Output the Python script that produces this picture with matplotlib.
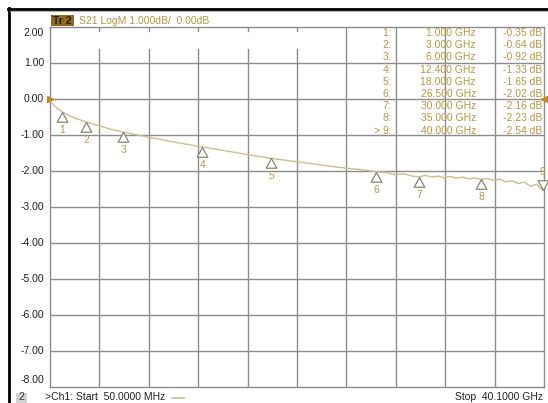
import numpy as np
import matplotlib.pyplot as plt
from matplotlib.lines import Line2D
from matplotlib.patches import Rectangle

plt.rcParams['font.family'] = ['Liberation Sans', 'DejaVu Sans']
plt.rcParams['font.size'] = 7.5

# Trace data (GHz, dB)
freq = [0.05, 0.3, 0.6, 1.0, 1.5, 2.0, 3.0, 4.0, 5.0, 6.0, 7.0, 8.0, 9.0, 10.0,
        11.0, 12.4, 14.0, 16.0, 18.0, 20.0, 22.0, 24.0, 25.5, 26.5, 27.3, 28.0,
        28.8, 29.4, 30.0, 30.5, 31.0, 31.5, 32.0, 32.5, 33.0, 33.5, 34.0, 34.5,
        35.0, 35.5, 36.0, 36.5, 37.0, 37.5, 38.0, 38.5, 39.0, 39.5, 40.0, 40.1]
s21 = [-0.05, -0.15, -0.25, -0.35, -0.44, -0.52, -0.64, -0.74, -0.84, -0.92,
       -0.99, -1.06, -1.12, -1.19, -1.25, -1.33, -1.42, -1.54, -1.65, -1.74,
       -1.83, -1.92, -1.97, -2.02, -2.04, -2.10, -2.08, -2.14, -2.16, -2.12,
       -2.17, -2.14, -2.19, -2.15, -2.20, -2.17, -2.22, -2.19, -2.23, -2.21,
       -2.26, -2.23, -2.30, -2.27, -2.35, -2.31, -2.42, -2.37, -2.54, -2.45]

# Markers
mk_num = [1, 2, 3, 4, 5, 6, 7, 8, 9]
mk_freq = [1.0, 3.0, 6.0, 12.4, 18.0, 26.5, 30.0, 35.0, 40.0]
mk_val = [-0.35, -0.64, -0.92, -1.33, -1.65, -2.02, -2.16, -2.23, -2.54]
mk_freq_txt = ['1.000 GHz', '3.000 GHz', '6.000 GHz', '12.400 GHz', '18.000 GHz',
               '26.500 GHz', '30.000 GHz', '35.000 GHz', '40.000 GHz']
mk_val_txt = ['-0.35 dB', '-0.64 dB', '-0.92 dB', '-1.33 dB', '-1.65 dB',
              '-2.02 dB', '-2.16 dB', '-2.23 dB', '-2.54 dB']

y_ticks = [2, 1, 0, -1, -2, -3, -4, -5, -6, -7, -8]

W, H = 548, 403
trace_col = '#cfbd8c'
gold = '#b8973f'
grid_col = '#8c8c8c'

fig = plt.figure(figsize=(W / 100, H / 100), dpi=100)
fig.patch.set_facecolor('white')


def fx(px):
    return px / W


def fy(py):
    return 1 - py / H


# plot area in pixels
L, R, T, B = 50, 544, 27, 387
ax = fig.add_axes([fx(L), fy(B), fx(R - L), (B - T) / H])
x0, x1 = 0.05, 40.1
ax.set_xlim(x0, x1)
ax.set_ylim(-8, 2)
ax.set_xticks([])
ax.set_yticks([])
for s in ax.spines.values():
    s.set_color(grid_col)
    s.set_linewidth(1.0)

# grid
for v in y_ticks[1:-1]:
    ax.axhline(v, color=grid_col, lw=1.0, zorder=1)
step = (x1 - x0) / 10
for k in range(1, 10):
    xv = x0 + k * step
    if k <= 5:
        ax.plot([xv, xv], [-8, 1.38], color=grid_col, lw=1.0, zorder=1)
        ax.plot([xv, xv], [1.88, 2], color=grid_col, lw=1.0, zorder=1)
    else:
        ax.plot([xv, xv], [-8, 2], color=grid_col, lw=1.0, zorder=1)

# y labels
for v in y_ticks:
    yy = v
    if v == 2:
        yy = 1.83
    if v == -8:
        yy = -7.8
    ax.text(-0.012, yy, f'{v:.2f}', transform=ax.get_yaxis_transform(),
            ha='right', va='center', fontsize=7.5, color='#222222')

# trace
ax.plot(freq, s21, color=trace_col, lw=1.0, zorder=3)

# reference arrows
ax.plot([x0], [0], marker='>', color='#c08a20', ms=5, clip_on=False, zorder=5)
ax.plot([x1], [0], marker='<', color='#c08a20', ms=5, clip_on=False, zorder=5)

# marker triangles, apex on the trace
tri_down = [(0, 0), (-0.55, -1), (0.55, -1), (0, 0)]
tri_up = [(0, 0), (-0.55, 1), (0.55, 1), (0, 0)]
for n, f, v in zip(mk_num, mk_freq, mk_val):
    if n == 9:
        ax.plot([f], [v], marker=tri_up, ms=14, mfc='white', mec='#8a8470',
                mew=0.9, clip_on=False, zorder=4)
        ax.annotate(str(n), (f, v), xytext=(0, 13), textcoords='offset points',
                    ha='center', va='center', color=gold, fontsize=7.5,
                    annotation_clip=False)
    else:
        ax.plot([f], [v], marker=tri_down, ms=14, mfc='white', mec='#8a8470',
                mew=0.9, clip_on=False, zorder=4)
        ax.annotate(str(n), (f, v), xytext=(0, -13), textcoords='offset points',
                    ha='center', va='center', color=gold, fontsize=7.5)

# marker table
for i, n in enumerate(mk_num):
    ypx = 33 + i * 12.2
    lab = f'{n}:'
    fig.text(fx(391), fy(ypx), lab, ha='right', va='center', color=gold, fontsize=7.5)
    if n == 9:
        fig.text(fx(380), fy(ypx), '>', ha='right', va='center', color=gold, fontsize=7.5)
    fig.text(fx(476), fy(ypx), mk_freq_txt[i], ha='right', va='center', color=gold, fontsize=7.5)
    fig.text(fx(542), fy(ypx), mk_val_txt[i], ha='right', va='center', color=gold, fontsize=7.5)

# title bar
fig.patches.append(Rectangle((fx(51), fy(26)), fx(23), 11 / H, transform=fig.transFigure,
                             facecolor='#8e6a1c', edgecolor='none'))
fig.text(fx(62.5), fy(20.5), 'Tr 2', ha='center', va='center', color='#2a1e00',
         fontsize=7.5, fontweight='bold')
fig.text(fx(79), fy(20.5), 'S21 LogM 1.000dB/  0.00dB', ha='left', va='center',
         color=gold, fontsize=7.5)

# bottom line
fig.patches.append(Rectangle((fx(16), fy(403)), fx(11), 10 / H, transform=fig.transFigure,
                             facecolor='#d2d2d2', edgecolor='none'))
fig.text(fx(21.5), fy(397.5), '2', ha='center', va='center', color='#333333', fontsize=7.5)
fig.text(fx(45), fy(397.5), '>Ch1: Start  50.0000 MHz', ha='left', va='center',
         color='#222222', fontsize=7.5)
fig.lines.append(Line2D([fx(172), fx(184)], [fy(397.5), fy(397.5)], transform=fig.transFigure,
                        color=trace_col, lw=1.2))
fig.text(fx(543), fy(397.5), 'Stop  40.1000 GHz', ha='right', va='center',
         color='#222222', fontsize=7.5)

# outer black frame
fig.lines.append(Line2D([fx(8.5), fx(8.5)], [fy(8), fy(403)], transform=fig.transFigure,
                        color='black', lw=2.0))
fig.lines.append(Line2D([fx(8), fx(548)], [fy(8.5), fy(8.5)], transform=fig.transFigure,
                        color='black', lw=2.0))
fig.lines.append(Line2D([fx(10), fx(548)], [fy(11), fy(11)], transform=fig.transFigure,
                        color='#b0b0b0', lw=0.8))

fig.savefig('out.png', dpi=100, facecolor='white')
